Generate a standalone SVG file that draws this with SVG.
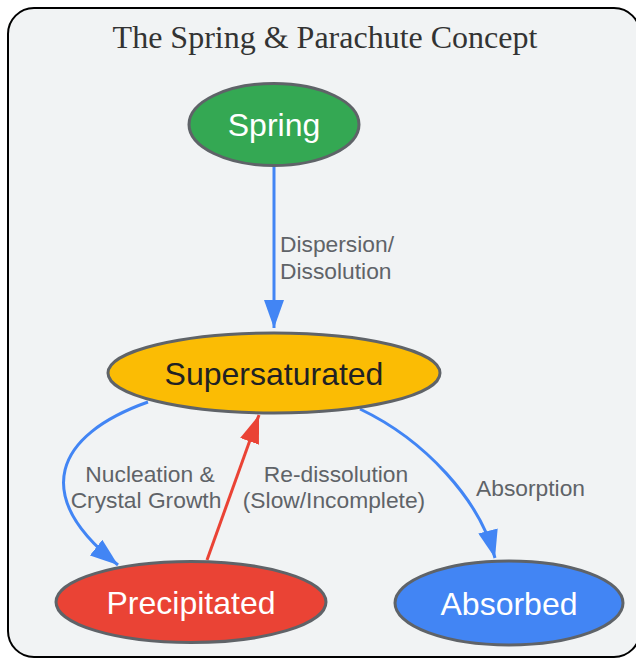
<svg xmlns="http://www.w3.org/2000/svg" width="636" height="659" viewBox="0 0 636 659">
<defs>
<style>
.node{stroke:#5f6368;stroke-width:3}
.nt{font-family:"Liberation Sans",Arial,sans-serif;font-size:32px;text-anchor:middle}
.lbl{font-family:"Liberation Sans",Arial,sans-serif;font-size:22.8px;fill:#5f6368}
.edge{fill:none;stroke-width:3}
</style>
<marker id="ab" markerUnits="userSpaceOnUse" markerWidth="28" markerHeight="20" refX="28" refY="10" orient="auto" viewBox="0 0 28 20"><path d="M0,0 L28,10 L0,20 z" fill="#4285f4"/></marker>
<marker id="ar" markerUnits="userSpaceOnUse" markerWidth="28" markerHeight="20" refX="28" refY="10" orient="auto" viewBox="0 0 28 20"><path d="M0,0 L28,10 L0,20 z" fill="#ea4335"/></marker>
</defs>
<rect x="8" y="8" width="632" height="649" rx="26" fill="#f1f3f4" stroke="#000" stroke-width="2"/>
<text x="325" y="48" font-family="'Liberation Serif','Times New Roman',serif" font-size="32" fill="#333" text-anchor="middle">The Spring &amp; Parachute Concept</text>
<g id="connectors">
<path class="edge" d="M274,166 L274,328" stroke="#4285f4" marker-end="url(#ab)"/>
<path class="edge" d="M148,402 C55,435 30,495 118,565" stroke="#4285f4" marker-end="url(#ab)"/>
<path class="edge" d="M207,560 L259,415" stroke="#ea4335" marker-end="url(#ar)"/>
<path class="edge" d="M360,409 C425,440 480,500 495,558" stroke="#4285f4" marker-end="url(#ab)"/>
<text class="lbl" x="280" y="252">Dispersion/</text>
<text class="lbl" x="280" y="279">Dissolution</text>
<text class="lbl" x="150" y="482" text-anchor="middle">Nucleation &amp;</text>
<text class="lbl" x="146" y="508" text-anchor="middle">Crystal Growth</text>
<text class="lbl" x="336" y="482" text-anchor="middle">Re-dissolution</text>
<text class="lbl" x="334" y="508" text-anchor="middle">(Slow/Incomplete)</text>
<text class="lbl" x="476" y="496">Absorption</text>
</g>
<g id="spring">
<ellipse class="node" cx="274" cy="124.5" rx="85" ry="41" fill="#34a853"/>
<text class="nt" x="274" y="136" fill="#fff">Spring</text>
</g>
<g id="supersaturated">
<ellipse class="node" cx="274" cy="373" rx="166" ry="40" fill="#fbbc04"/>
<text class="nt" x="274" y="384.5" fill="#202124">Supersaturated</text>
</g>
<g id="precipitated">
<ellipse class="node" cx="191" cy="602" rx="135" ry="40.5" fill="#ea4335"/>
<text class="nt" x="191" y="613.5" fill="#fff">Precipitated</text>
</g>
<g id="absorbed">
<ellipse class="node" cx="509" cy="603" rx="114" ry="42" fill="#4285f4"/>
<text class="nt" x="509" y="614.5" fill="#fff">Absorbed</text>
</g>
</svg>
